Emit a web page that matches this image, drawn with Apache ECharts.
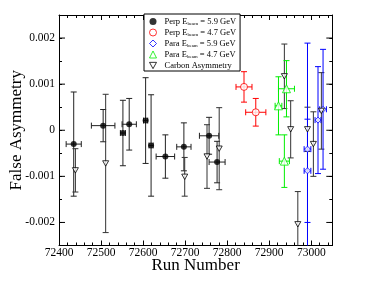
<!DOCTYPE html>
<html><head><meta charset="utf-8">
<script src="https://cdn.jsdelivr.net/npm/echarts@6/dist/echarts.min.js"></script>
<style>html,body{margin:0;padding:0;background:#fff}#c{width:374px;height:289px}</style>
</head><body><div id="c"></div>
<script>
// ---- data ----
const perp59X    = [72435, 72505, 72552, 72567, 72606, 72619, 72653, 72697, 72757, 72776];
const perp59Y    = [-0.00030, 0.00010, -0.00006, 0.00013, 0.00021, -0.00033, -0.00057, -0.00036, -0.00012, -0.00069];
const perp59XErr = [18, 28, 6, 17, 5, 5, 22, 17, 23, 19];
const perp59YErr = [0.00113, 0.00035, 0.00071, 0.00056, 0.00093, 0.00110, 0.00047, 0.00052, 0.00040, 0.00045];

const perp47X    = [72840, 72868];
const perp47Y    = [0.00094, 0.00039];
const perp47XErr = [19, 24];
const perp47YErr = [0.00033, 0.00030];

const para59X    = [72991, 72991, 73016, 73028];
const para59Y    = [-0.00041, -0.00088, 0.00022, 0.000455];
const para59XErr = [8, 8, 7, 8];
const para59YErr = [0.0023, 0.00112, 0.00116, 0.0013];

const para47X    = [72922, 72941, 72936];
const para47Y    = [0.00053, 0.00090, -0.00067];
const para47XErr = [8, 19, 12];
const para47YErr = [0.00063, 0.00061, 0.00057];

const carbonX    = [72439, 72511, 72699, 72752, 72781, 72936, 72951, 72968, 72991, 73005, 73024];
const carbonY    = [-0.00087, -0.00072, -0.00101, -0.00057, -0.00040, 0.00117, 0.00002, -0.00204, 0.00002, -0.00030, 0.00042];
const carbonYErr = [0.00047, 0.0015, 0.00042, 0.00069, 0.00089, 0.00070, 0.00062, 0.00071, 0.00048, 0.00070, 0.00083];

const xMin = 72400, xMax = 73050, xStep = 100;
const yMin = -0.0025, yMax = 0.0025, yStep = 0.0005;
const yMajorTicks = [-0.002, -0.001, 0, 0.001, 0.002];

const seriesNames = ['Perp 5.9', 'Perp 4.7', 'Para 5.9', 'Para 4.7', 'Carbon'];
const legendPrefix = ['Perp E', 'Perp E', 'Para E', 'Para E', 'Carbon Asymmetry'];
const legendSub    = ['beam', 'beam', 'beam', 'beam', ''];
const legendSuffix = [' = 5.9 GeV', ' = 4.7 GeV', ' = 5.9 GeV', ' = 4.7 GeV', ''];

// ---- build ----
const FONT = 'Liberation Serif';
const DOWN_TRI = 'path://M0,0 L10,0 L5,9 Z';
const styles = [
  { symbol: 'circle',   size: 6, color: '#000',    filled: true },
  { symbol: 'circle',   size: 7, color: '#ff0000', filled: false },
  { symbol: 'diamond',  size: 6, color: '#0000ff', filled: false },
  { symbol: 'triangle', size: 8, color: '#00ee00', filled: false },
  { symbol: DOWN_TRI,   size: 6, color: '#000',    filled: false }
];
function pts(xs, ys, xe, ye) {
  return xs.map((x, i) => [x, ys[i], xe ? xe[i] : 0, ye[i]]);
}
function errRender(color) {
  return function (params, api) {
    const x = api.value(0), y = api.value(1), dx = api.value(2), dy = api.value(3);
    const cap = 3;
    const ch = [];
    const st = { stroke: color, lineWidth: 1, fill: null };
    const t = api.coord([x, y + dy]), b = api.coord([x, y - dy]);
    ch.push({ type: 'line', shape: { x1: t[0], y1: t[1], x2: b[0], y2: b[1] }, style: st });
    ch.push({ type: 'line', shape: { x1: t[0] - cap, y1: t[1], x2: t[0] + cap, y2: t[1] }, style: st });
    ch.push({ type: 'line', shape: { x1: b[0] - cap, y1: b[1], x2: b[0] + cap, y2: b[1] }, style: st });
    if (dx > 0) {
      const l = api.coord([x - dx, y]), r = api.coord([x + dx, y]);
      ch.push({ type: 'line', shape: { x1: l[0], y1: l[1], x2: r[0], y2: r[1] }, style: st });
      ch.push({ type: 'line', shape: { x1: l[0], y1: l[1] - cap, x2: l[0], y2: l[1] + cap }, style: st });
      ch.push({ type: 'line', shape: { x1: r[0], y1: r[1] - cap, x2: r[0], y2: r[1] + cap }, style: st });
    }
    return { type: 'group', children: ch };
  };
}
function errSeries(data, color) {
  return { type: 'custom', data: data, renderItem: errRender(color), clip: true, silent: true,
           z: 2, encode: { x: 0, y: 1 } };
}
function itemStyleOf(s) {
  return s.filled ? { color: s.color, borderWidth: 0 } : { color: '#fff', borderColor: s.color, borderWidth: 1 };
}
function scatter(i, data) {
  const s = styles[i];
  return {
    type: 'scatter', name: seriesNames[i], data: data.map(d => [d[0], d[1]]), symbol: s.symbol,
    symbolSize: s.size, symbolKeepAspect: true, z: 3, itemStyle: itemStyleOf(s)
  };
}

const dPerp59 = pts(perp59X, perp59Y, perp59XErr, perp59YErr);
const dPerp47 = pts(perp47X, perp47Y, perp47XErr, perp47YErr);
const dPara59 = pts(para59X, para59Y, para59XErr, para59YErr);
const dPara47 = pts(para47X, para47Y, para47XErr, para47YErr);
const dCarbon = pts(carbonX, carbonY, null, carbonYErr);

const axisLineStyle = { show: true, onZero: false, lineStyle: { color: '#000', width: 1 } };
function xAx(pos, labels) {
  return {
    type: 'value', position: pos, min: xMin, max: xMax, interval: xStep,
    axisLine: axisLineStyle,
    axisTick: { show: true, inside: true, length: 5, lineStyle: { color: '#000' } },
    minorTick: { show: true, splitNumber: 5, length: 3, lineStyle: { color: '#000' } },
    splitLine: { show: false },
    axisLabel: { show: labels, fontFamily: FONT, fontSize: 11.5, color: '#000', margin: 1,
      formatter: v => (Math.round(v) % 100 === 0 ? String(Math.round(v)) : '') },
    name: labels ? 'Run Number' : '', nameLocation: 'middle', nameGap: 12, nameMoveOverlap: false,
    nameTextStyle: { fontFamily: FONT, fontSize: 17, color: '#000' }
  };
}
function yAx(pos, labels) {
  return {
    type: 'value', position: pos, min: yMin, max: yMax, interval: yStep,
    axisLine: axisLineStyle,
    axisTick: { show: true, inside: true, length: 3, lineStyle: { color: '#000' } },
    splitLine: { show: false },
    axisLabel: { show: labels, fontFamily: FONT, fontSize: 11.5, color: '#000', margin: 4,
      formatter: v => {
        const k = Math.round(v * 10000);
        if (k % 10 !== 0 || Math.abs(k) >= 25) return '';
        return k === 0 ? '0' : String(k / 10000);
      } },
    name: labels ? 'False Asymmetry' : '', nameLocation: 'middle', nameGap: 34, nameMoveOverlap: false,
    nameTextStyle: { fontFamily: FONT, fontSize: 17, color: '#000' }
  };
}

const majorTickSeries = {
  type: 'custom', data: yMajorTicks.map(v => [xMin, v]), silent: true, z: 1, xAxisIndex: 0, yAxisIndex: 0,
  renderItem: function (params, api) {
    const cs = params.coordSys;
    const y = api.coord([xMin, api.value(1)])[1];
    const st = { stroke: '#000', lineWidth: 1 };
    return { type: 'group', children: [
      { type: 'line', shape: { x1: cs.x, y1: y, x2: cs.x + 6, y2: y }, style: st },
      { type: 'line', shape: { x1: cs.x + cs.width, y1: y, x2: cs.x + cs.width - 6, y2: y }, style: st }
    ] };
  }
};

const option = {
  animation: false,
  backgroundColor: '#fff',
  grid: { left: 57, right: 41.7, top: 15, bottom: 43.5 },
  xAxis: [xAx('bottom', true), xAx('top', false)],
  yAxis: [yAx('left', true), yAx('right', false)],
  legend: {
    orient: 'vertical', left: 144, top: 14, padding: [3, 4, 1, 5], itemGap: 1.5,
    itemWidth: 7, itemHeight: 7,
    backgroundColor: '#fff', borderColor: '#000', borderWidth: 1, borderRadius: 0,
    data: seriesNames.map((n, i) => ({ name: n, icon: styles[i].symbol, itemStyle: itemStyleOf(styles[i]) })),
    formatter: function (name) {
      const i = seriesNames.indexOf(name);
      let s = '{p|' + legendPrefix[i] + '}';
      if (legendSub[i]) s += '{s|' + legendSub[i] + '}';
      if (legendSuffix[i]) s += '{a|' + legendSuffix[i] + '}';
      return s;
    },
    textStyle: {
      fontFamily: FONT, fontSize: 8.5, color: '#000',
      rich: {
        p: { fontFamily: FONT, fontSize: 8.5, color: '#000', lineHeight: 10, padding: [0, 0, 0, 3] },
        a: { fontFamily: FONT, fontSize: 8.5, color: '#000', lineHeight: 10 },
        s: { fontFamily: FONT, fontSize: 5, color: '#000', padding: [5, 0, 0, 0] }
      }
    }
  },
  series: [
    majorTickSeries,
    errSeries(dPerp59, '#222'),
    errSeries(dCarbon, '#333'),
    errSeries(dPerp47, '#ff0000'),
    errSeries(dPara47, '#00ee00'),
    errSeries(dPara59, '#0000ff'),
    scatter(0, dPerp59),
    scatter(1, dPerp47),
    scatter(2, dPara59),
    scatter(3, dPara47),
    scatter(4, dCarbon)
  ]
};
const chart = echarts.init(document.getElementById('c'), null, { renderer: 'canvas' });
chart.setOption(option);
</script></body></html>
